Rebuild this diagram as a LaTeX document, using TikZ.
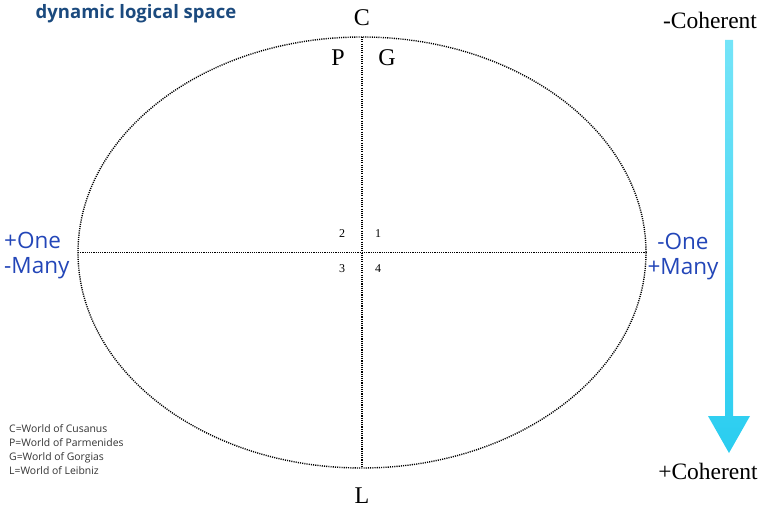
\documentclass[tikz,border=0pt]{standalone}
\usepackage{fontspec}
\setmainfont{Liberation Serif}
\newfontfamily\opensans{Open Sans}
\definecolor{titleblue}{HTML}{1B4A7E}
\definecolor{axisblue}{HTML}{2346B8}
\definecolor{arrowtop}{HTML}{74E4F8}
\definecolor{arrowbot}{HTML}{2ACDF0}
\definecolor{legendgray}{HTML}{333333}
\tikzset{
  dotline/.style={line width=1.4pt,dash pattern=on 1.1pt off 1.1pt},
  axislabel/.style={text=axisblue,font=\opensans\fontsize{22.5}{22.5}\selectfont,inner sep=0pt},
  polelabel/.style={font=\fontsize{24}{24}\selectfont,inner sep=0pt},
  quadlabel/.style={font=\fontsize{12}{12}\selectfont,inner sep=0pt},
  cohlabel/.style={font=\fontsize{23.5}{23.5}\selectfont,inner sep=0pt},
  legendline/.style={text=legendgray,font=\opensans\fontsize{10.4}{10.4}\selectfont,inner sep=0pt,anchor=base west}
}
\begin{document}
\begin{tikzpicture}[x=1pt,y=-1pt]
  \useasboundingbox (0,0) rectangle (764,511);
  % ellipse and axes
  \coordinate (ctr) at (362,252.5);
  \coordinate (top) at (362,37);
  \coordinate (bot) at (362,468);
  \coordinate (lft) at (78,252.5);
  \coordinate (rgt) at (646,252.5);
  \draw[dotline] (ctr) ellipse (284 and 215.5);
  \draw[dotline] (top) -- (bot);
  \draw[dotline] (lft) -- (rgt);
  % title
  \node[text=titleblue,font=\opensans\bfseries\fontsize{18.5}{18.5}\selectfont,inner sep=0pt] (title) at (136,14) {dynamic logical space};
  % poles
  \node[polelabel] (cusa) at (362,18) {C};
  \node[polelabel] (parm) at (338,58) {P};
  \node[polelabel] (gorg) at (387,58) {G};
  \node[polelabel] (leib) at (362,496) {L};
  % quadrants
  \node[quadlabel] (q2) at (342,234) {2};
  \node[quadlabel] (q1) at (378,234) {1};
  \node[quadlabel] (q3) at (342,269) {3};
  \node[quadlabel] (q4) at (378,269) {4};
  % one / many
  \node[axislabel,anchor=west] (oneL) at (4,240) {+One};
  \node[axislabel,anchor=west] (manyL) at (4,268) {-Many};
  \node[axislabel] (oneR) at (683,241) {-One};
  \node[axislabel] (manyR) at (683,269) {+Many};
  % coherence arrow
  \node[cohlabel] (cohTop) at (710,20) {-Coherent};
  \node[cohlabel] (cohBot) at (708,471) {+Coherent};
  \shade[top color=arrowtop,bottom color=arrowbot]
    (725,40) -- (733,40) -- (733,416) -- (750,416) -- (729,453) -- (708,416) -- (725,416) -- cycle;
  % legend
  \node[legendline] (legC) at (9,432) {C=World of Cusanus};
  \node[legendline] (legP) at (9,446) {P=World of Parmenides};
  \node[legendline] (legG) at (9,460) {G=World of Gorgias};
  \node[legendline] (legL) at (9,474) {L=World of Leibniz};
\end{tikzpicture}
\end{document}
